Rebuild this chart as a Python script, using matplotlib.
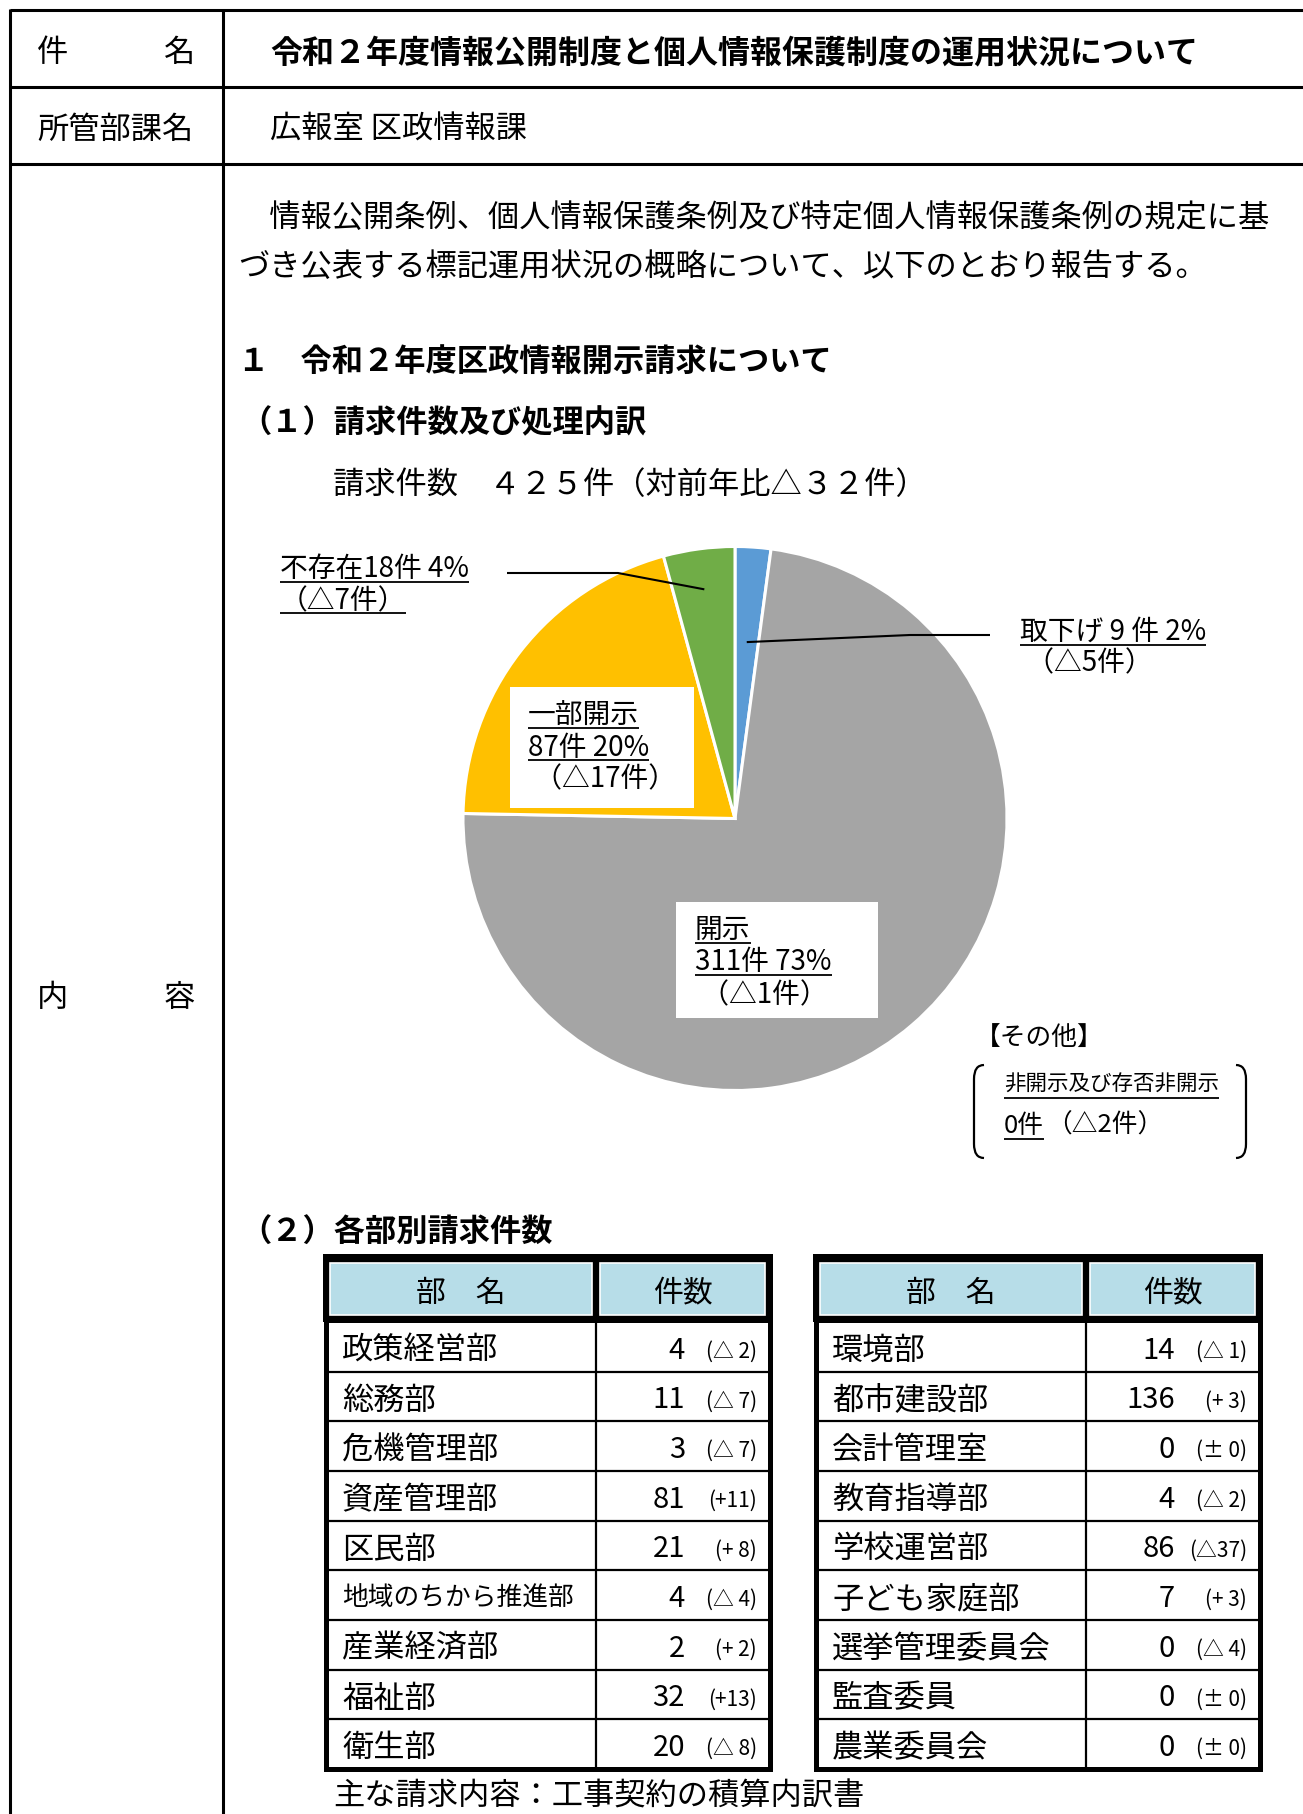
import matplotlib
matplotlib.use('Agg')
import matplotlib.pyplot as plt
from matplotlib.patches import Rectangle, PathPatch
from matplotlib.path import Path
import numpy as np

plt.rcParams['font.family'] = ['Noto Sans CJK JP', 'DejaVu Sans']

# ---------------- data ----------------
title = '令和２年度情報公開制度と個人情報保護制度の運用状況について'
department = '広報室 区政情報課'
intro_lines = ['　情報公開条例、個人情報保護条例及び特定個人情報保護条例の規定に基',
               'づき公表する標記運用状況の概略について、以下のとおり報告する。']
section1 = '１　令和２年度区政情報開示請求について'
sub1 = '（１）請求件数及び処理内訳'
sub2 = '（２）各部別請求件数'
total_requests = 425
total_change = 32

pie_labels = ['取下げ', '開示', '一部開示', '不存在']
pie_counts = [9, 311, 87, 18]
pie_pcts = [2, 73, 20, 4]
pie_changes = [5, 1, 17, 7]
pie_colors = ['#5B9BD5', '#A5A5A5', '#FFC000', '#70AD47']

other_label = '非開示及び存否非開示'
other_count = 0
other_change = 2

left_depts = ['政策経営部', '総務部', '危機管理部', '資産管理部', '区民部',
              '地域のちから推進部', '産業経済部', '福祉部', '衛生部']
left_counts = [4, 11, 3, 81, 21, 4, 2, 32, 20]
left_changes = [-2, -7, -7, 11, 8, -4, 2, 13, -8]
right_depts = ['環境部', '都市建設部', '会計管理室', '教育指導部', '学校運営部',
               '子ども家庭部', '選挙管理委員会', '監査委員', '農業委員会']
right_counts = [14, 136, 0, 4, 86, 7, 0, 0, 0]
right_changes = [-1, 3, 0, -2, -37, 3, -4, 0, 0]
main_content = '主な請求内容：工事契約の積算内訳書'

# ---------------- figure ----------------
W, H = 1303, 1815
fig = plt.figure(figsize=(W / 100, H / 100), dpi=100)
fig.patch.set_facecolor('white')
ax = fig.add_axes([0, 0, 1, 1])
ax.set_xlim(0, W)
ax.set_ylim(H, 0)
ax.axis('off')
ax.set_zorder(2)
ax.patch.set_visible(False)

FW = str.maketrans('0123456789', '０１２３４５６７８９')
BODY = 22.5
K = 'black'


def line(xs, ys, lw=2.2, color=K, z=3):
    ax.plot(xs, ys, color=color, lw=lw, solid_capstyle='butt', zorder=z)


def txt(x, y, s, size=BODY, ha='left', weight='normal', z=5, dy=3, **kw):
    return ax.text(x, y + dy, s, fontsize=size, ha=ha, va='center', fontweight=weight,
                   color=K, zorder=z, **kw)


# ---- document frame ----
line([10, W], [11, 11])
line([10, W], [88, 88])
line([10, W], [165, 165])
line([10, 10], [10, H])
line([223, 223], [10, H])

txt(37, 50, '件')
txt(195, 50, '名', ha='right')
txt(270, 50, title, size=23, weight='bold')
txt(37, 127, '所管部課名')
txt(270, 127, department)
txt(37, 995, '内')
txt(195, 995, '容', ha='right')

txt(238, 215, intro_lines[0])
txt(238, 264, intro_lines[1])
txt(238, 359, section1, weight='bold')
txt(240, 420, sub1, weight='bold')
txt(333, 482, '請求件数　' + str(total_requests).translate(FW) + '件（対前年比△'
    + str(total_change).translate(FW) + '件）')

# ---- pie ----
cx, cy, r = 735, 819.5, 272
pad = 1.03
pax = fig.add_axes([(cx - r * pad) / W, (H - (cy + r * pad)) / H,
                    2 * r * pad / W, 2 * r * pad / H])
pax.set_zorder(1)
wedges, _ = pax.pie(pie_counts, colors=pie_colors, startangle=90, counterclock=False,
                    wedgeprops=dict(edgecolor='white', linewidth=2.2))
pax.set_xlim(-pad, pad)
pax.set_ylim(-pad, pad)
pax.set_aspect('equal')
pax.axis('off')


def wedge_point(i, frac):
    th = np.deg2rad((wedges[i].theta1 + wedges[i].theta2) / 2)
    return cx + r * frac * np.cos(th), cy - r * frac * np.sin(th)


PL = 20
underlines = []

# 不存在 (index 3)
t = txt(280, 569, f'{pie_labels[3]}{pie_counts[3]}件 {pie_pcts[3]}%', size=PL, dy=0)
underlines.append((t, 583))
t = txt(280, 601, f'（△{pie_changes[3]}件）', size=PL, dy=0)
underlines.append((t, 614))
px, py = wedge_point(3, 0.85)
line([507, 618, px], [574, 574, py], lw=1.5)

# 取下げ (index 0)
t = txt(1020, 632, f'{pie_labels[0]} {pie_counts[0]} 件 {pie_pcts[0]}%', size=PL, dy=0)
underlines.append((t, 646))
txt(1020, 663, f' （△{pie_changes[0]}件）', size=PL, dy=0)
px, py = wedge_point(0, 0.65)
line([990, 910, px], [636, 636, py], lw=1.5)

# 一部開示 (index 2)
ax.add_patch(Rectangle((510, 688), 184, 121, facecolor='white', edgecolor='none', zorder=2))
t = txt(528, 716, pie_labels[2], size=PL, dy=0)
underlines.append((t, 729))
t = txt(528, 748, f'{pie_counts[2]}件 {pie_pcts[2]}%', size=PL, dy=0)
underlines.append((t, 761))
txt(528, 779, f' （△{pie_changes[2]}件）', size=PL, dy=0)

# 開示 (index 1)
ax.add_patch(Rectangle((676, 903), 202, 116, facecolor='white', edgecolor='none', zorder=2))
t = txt(695, 930, pie_labels[1], size=PL, dy=0)
underlines.append((t, 944))
t = txt(695, 962, f'{pie_counts[1]}件 {pie_pcts[1]}%', size=PL, dy=0)
underlines.append((t, 976))
txt(695, 995, f' （△{pie_changes[1]}件）', size=PL, dy=0)

# その他
txt(975, 1037, '【その他】', size=18.5, dy=1)
t = txt(1004, 1085, other_label, size=15.5, dy=0)
underlines.append((t, 1099))
t0 = txt(1004, 1126, f'{other_count}件', size=18.5, dy=0)
underlines.append((t0, 1140))
t_other_change = (f'（△{other_change}件）', 1126)


def bracket(x_edge, x_tip, y0, y1):
    verts = [(x_tip, y0), (x_edge, y0), (x_edge, y0 + 14), (x_edge, y1 - 14),
             (x_edge, y1), (x_tip, y1)]
    codes = [Path.MOVETO, Path.CURVE3, Path.CURVE3, Path.LINETO, Path.CURVE3, Path.CURVE3]
    ax.add_patch(PathPatch(Path(verts, codes), facecolor='none', edgecolor=K, lw=1.6, zorder=3))


bracket(974, 984, 1066, 1159)
bracket(1246, 1236, 1066, 1159)

# ---- section 2 ----
txt(240, 1230, sub2, weight='bold')

HEAD_BLUE = '#B7DDE8'
row_top, row_bot = 1323, 1770
nrows = len(left_depts)
rh = (row_bot - row_top) / nrows


def fmt_change(v):
    if v < 0:
        return f'(△{abs(v):2d})'
    if v > 0:
        return f'(+{v:2d})'
    return '(± 0)'


def draw_table(x0, depts, counts, changes):
    x1 = x0 + 450
    div = x0 + 273
    # header
    ax.add_patch(Rectangle((x0, 1255), x1 - x0, 68, facecolor=K, edgecolor='none', zorder=2))
    for a, b in [(x0 + 7, div - 4), (div + 4, x1 - 8)]:
        ax.add_patch(Rectangle((a, 1264), b - a, 52, facecolor=HEAD_BLUE,
                               edgecolor='white', lw=1.2, zorder=2.5))
    txt((x0 + 7 + div - 4) / 2, 1290, '部　名', size=21.5, ha='center')
    txt((div + 4 + x1 - 8) / 2, 1290, '件数', size=21.5, ha='center')
    # body
    for i in range(1, nrows):
        y = row_top + i * rh
        line([x0 + 3, x1 - 3], [y, y], lw=1.6)
    line([div, div], [row_top, row_bot], lw=1.6)
    ax.add_patch(Rectangle((x0 + 3, row_top - 2), x1 - x0 - 6, row_bot - row_top + 2,
                           facecolor='none', edgecolor=K, lw=3.6, zorder=3))
    for i, (d, c, ch) in enumerate(zip(depts, counts, changes)):
        y = row_top + (i + 0.5) * rh
        size = BODY if len(d) <= 7 else 18.5
        txt(x0 + 19, y, d, size=size)
        txt(x1 - 88, y, str(c), size=21, ha='right')
        txt(x1 - 16, y + 1, fmt_change(ch), size=15, ha='right')


draw_table(323, left_depts, left_counts, left_changes)
draw_table(813, right_depts, right_counts, right_changes)

txt(333, 1794, main_content)

# ---- underlines (measured from rendered text) ----
fig.canvas.draw()
renderer = fig.canvas.get_renderer()
inv = ax.transData.inverted()
for t, y in underlines:
    bb = t.get_window_extent(renderer)
    xa = inv.transform((bb.x0, bb.y0))[0]
    xb = inv.transform((bb.x1, bb.y0))[0]
    line([xa, xb], [y, y], lw=1.3)

bb = t0.get_window_extent(renderer)
xb = inv.transform((bb.x1, bb.y0))[0]
txt(xb + 2, t_other_change[1], t_other_change[0], size=18.5, dy=0)

fig.savefig('out.png', dpi=100, facecolor='white')
